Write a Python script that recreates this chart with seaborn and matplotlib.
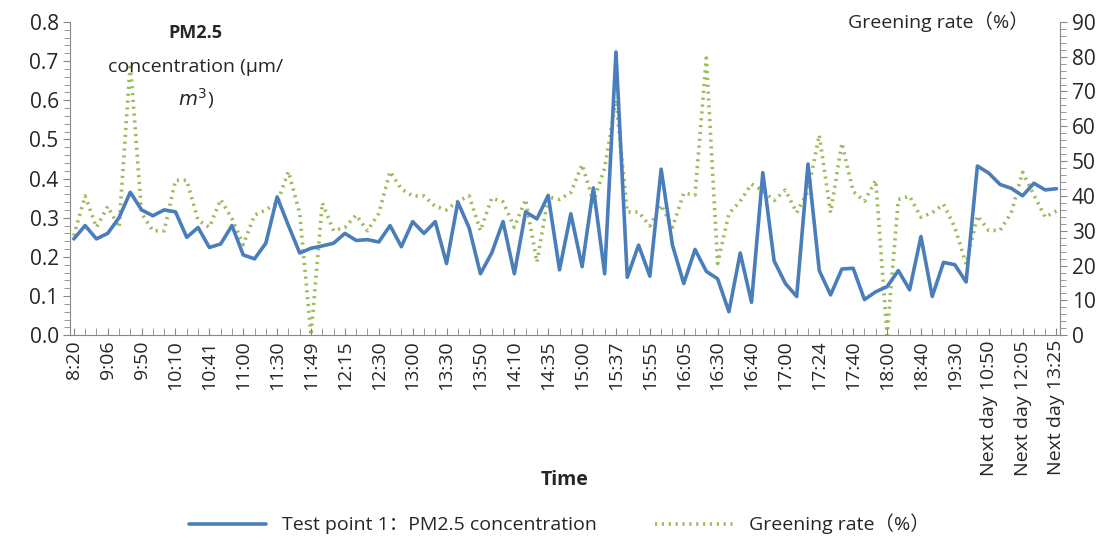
import matplotlib
matplotlib.use("Agg")
import matplotlib.pyplot as plt
import seaborn as sns
import numpy as np
from matplotlib.ticker import MultipleLocator, AutoMinorLocator

sns.set_style("white")
plt.rcParams['font.family'] = ['Open Sans', 'Noto Sans CJK SC', 'DejaVu Sans']

# PM2.5 at test point 1 (one value per sample)
pm25 = [0.246, 0.28, 0.246, 0.26, 0.30, 0.365, 0.32, 0.305, 0.32, 0.315,
        0.25, 0.275, 0.224, 0.233, 0.28, 0.205, 0.195, 0.235, 0.353, 0.28,
        0.21, 0.222, 0.228, 0.235, 0.26, 0.242, 0.244, 0.238, 0.28, 0.226,
        0.29, 0.26, 0.29, 0.183, 0.34, 0.274, 0.157, 0.21, 0.29, 0.157,
        0.315, 0.297, 0.357, 0.167, 0.31, 0.175, 0.376, 0.157, 0.723, 0.148,
        0.23, 0.151, 0.424, 0.23, 0.132, 0.219, 0.163, 0.144, 0.06, 0.21,
        0.084, 0.415, 0.19, 0.132, 0.099, 0.437, 0.165, 0.103, 0.169, 0.171,
        0.091, 0.111, 0.124, 0.165, 0.116, 0.252, 0.099, 0.186, 0.18, 0.136,
        0.432, 0.414, 0.385, 0.375, 0.356, 0.388, 0.371, 0.374]

# greening rate (%)
green = [28.6, 40, 31, 37, 31, 78, 35, 30, 30, 44.5,
         44.5, 33, 31, 39, 33.5, 26, 34.5, 36, 38, 47,
         35, 0, 38, 30, 31, 34.5, 30, 35, 47, 42,
         40, 40, 37, 36, 38.5, 40, 30, 39.4, 38.3, 31,
         39, 21, 39.7, 39, 41, 49, 38.3, 48, 67.5, 35.4,
         35.4, 31.4, 37.4, 31, 40.8, 40.3, 79.6, 20.6, 34.9, 38.5,
         43.4, 41.5, 38.7, 41.7, 35.2, 41.3, 57.5, 35.2, 55.2, 41.3,
         38.5, 44.5, 0, 39, 39.9, 33.9, 35.2, 37.6, 31, 20.4,
         34.3, 30.1, 30.1, 35.2, 46.8, 40.3, 33.9, 35.7]

tick_labels = ["8:20", "9:06", "9:50", "10:10", "10:41", "11:00", "11:30", "11:49",
               "12:15", "12:30", "13:00", "13:30", "13:50", "14:10", "14:35", "15:00",
               "15:37", "15:55", "16:05", "16:30", "16:40", "17:00", "17:24", "17:40",
               "18:00", "18:40", "19:30", "Next day 10:50", "Next day 12:05",
               "Next day 13:25"]

x = np.arange(len(pm25))
blue = "#4a7ebb"
lgreen = "#9bbb59"

fig = plt.figure(figsize=(11.18, 5.46), dpi=100)
ax = fig.add_axes([0.063, 0.386, 0.885, 0.574])
ax2 = ax.twinx()

sns.lineplot(x=x, y=pm25, ax=ax, color=blue, linewidth=2.6, zorder=3,
             label="Test point 1：PM2.5 concentration", legend=False)
sns.lineplot(x=x, y=green, ax=ax2, color=lgreen, linewidth=2.6, linestyle=(0, (0.6, 1.3)),
             label="Greening rate（%）", legend=False)
ax.set_zorder(ax2.get_zorder() + 1)
ax.patch.set_visible(False)

ax.set_xlim(-0.3, len(pm25) - 0.7)
ax.set_ylim(0, 0.8)
ax2.set_ylim(0, 90)
ax.yaxis.set_major_locator(MultipleLocator(0.1))
ax.yaxis.set_minor_locator(AutoMinorLocator(5))
ax2.yaxis.set_major_locator(MultipleLocator(10))
ax2.yaxis.set_minor_locator(AutoMinorLocator(5))
ax.set_xticks(x[::3])
ax.set_xticklabels(tick_labels, rotation=90, fontsize=14)
ax.xaxis.set_minor_locator(MultipleLocator(1))
ax.tick_params(axis="x", which="both", direction="in", length=5, color="#888888", bottom=True)
ax.tick_params(axis="y", which="both", direction="out", length=5, color="#888888", left=True, labelsize=15)
ax.tick_params(axis="y", which="minor", length=4)
ax2.tick_params(axis="y", which="both", direction="out", length=5, color="#888888", right=True, labelsize=15)
ax2.tick_params(axis="y", which="minor", length=4)

for a in (ax, ax2):
    for s in a.spines.values():
        s.set_visible(False)
ax.spines["left"].set_visible(True)
ax.spines["bottom"].set_visible(True)
ax2.spines["right"].set_visible(True)
for s in (ax.spines["left"], ax.spines["bottom"], ax2.spines["right"]):
    s.set_color("#888888")

ax.set_xlabel("")
ax.set_ylabel("")
ax2.set_ylabel("")
fig.text(0.505, 0.12, "Time", fontsize=14, fontweight="bold", ha="center", va="center")

fig.text(0.175, 0.94, "PM2.5", fontsize=13, fontweight="bold", ha="center", va="center")
fig.text(0.175, 0.877, "concentration (μm/", fontsize=14, ha="center", va="center")
fig.text(0.175, 0.82, "$m^3$)", fontsize=14, ha="center", va="center")
fig.text(0.92, 0.96, "Greening rate（%）", fontsize=14, ha="right", va="center")

h1, l1 = ax.get_legend_handles_labels()
h2, l2 = ax2.get_legend_handles_labels()
fig.legend(h1 + h2, l1 + l2, loc="center", bbox_to_anchor=(0.5, 0.04), ncol=2,
           frameon=False, fontsize=14, handlelength=4, columnspacing=3)

fig.savefig("out.png", dpi=100)
